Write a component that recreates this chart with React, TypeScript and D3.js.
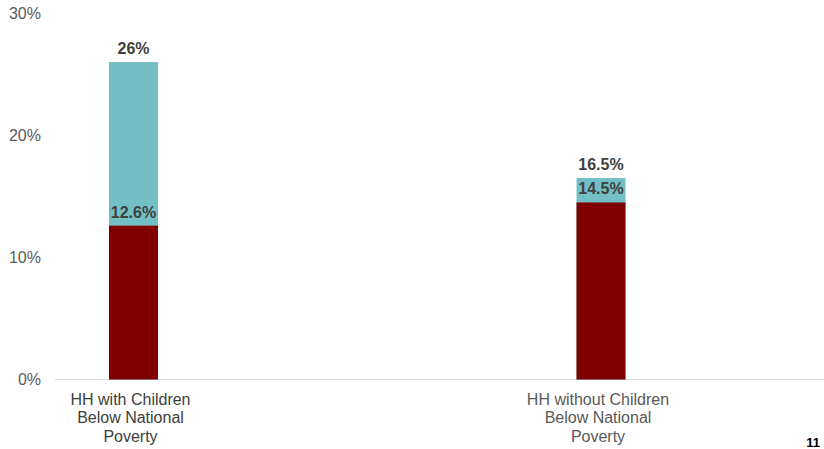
import React from "react";
import * as d3 from "d3";

const categories = ["HH with Children|Below National|Poverty", "HH without Children|Below National|Poverty"];
const totalValues = [26, 16.5];
const partValues = [12.6, 14.5];
const totalLabels = ["26%", "16.5%"];
const partLabels = ["12.6%", "14.5%"];
const yTicks = [0, 10, 20, 30];

const W = 824;
const H = 449;

export default function App() {
  const y = d3.scaleLinear().domain([0, 30]).range([379.5, 13.2]);
  const x = d3.scalePoint<string>().domain(categories).range([133.5, 601]);
  const bw = 49;
  const font = "'Liberation Sans', Arial, sans-serif";
  const catColors = ["#404040", "#595959"];
  return (
    <svg width={W} height={H} style={{ position: "absolute", left: 0, top: 0, background: "#fff" }} fontFamily={font}>
      <line x1={55} x2={W} y1={y(0)} y2={y(0)} stroke="#d9d9d9" strokeWidth={1.2} />
      {yTicks.map((t) => (
        <text key={t} x={41} y={y(t)} dy="0.36em" textAnchor="end" fontSize={16} fill="#595959">
          {t + "%"}
        </text>
      ))}
      {categories.map((c, i) => {
        const cx = x(c)!;
        return (
          <g key={c}>
            <rect x={cx - bw / 2} width={bw} y={y(totalValues[i])} height={y(0) - y(totalValues[i])} fill="#72bfc5" />
            <rect x={cx - bw / 2} width={bw} y={y(partValues[i])} height={y(0) - y(partValues[i])} fill="#800000" />
            <text x={cx} y={y(totalValues[i]) - 8} textAnchor="middle" fontSize={16} fontWeight="bold" fill="#404040">
              {totalLabels[i]}
            </text>
            <text x={cx} y={y(partValues[i]) - 8} textAnchor="middle" fontSize={16} fontWeight="bold" fill="#404040">
              {partLabels[i]}
            </text>
            {c.split("|").map((line, j) => (
              <text key={j} x={cx - 3} y={404.5 + j * 18.7} textAnchor="middle" fontSize={16} fill={catColors[i]}>
                {line}
              </text>
            ))}
          </g>
        );
      })}
      <text x={820} y={447} textAnchor="end" fontSize={13} fontWeight="bold" fill="#000">
        11
      </text>
    </svg>
  );
}
